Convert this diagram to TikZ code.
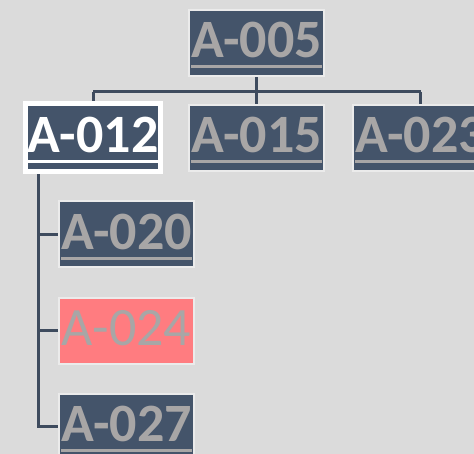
\documentclass[tikz,border=0pt]{standalone}
\usepackage{fontspec}
\setmainfont{Carlito}
\usepackage{tikz}
\usetikzlibrary{positioning}
\definecolor{slate}{HTML}{44546A}
\definecolor{wire}{HTML}{3E4B5E}
\definecolor{idgrey}{HTML}{A8A6A6}
\definecolor{rim}{HTML}{EBEBEB}
\definecolor{alert}{HTML}{FF7C80}
\definecolor{paper}{HTML}{DBDBDB}
\newcommand{\idul}[1]{\vtop{\hbox{#1}\kern7pt\hrule height 3pt}}
\tikzset{%
	idbox/.style   = {draw=rim, line width=2pt, fill=slate, text=idgrey, font=\fontsize{54}{54}\selectfont\bfseries,
	                  minimum width=135, minimum height=66, inner sep=0pt, text height=38pt, text depth=8pt}, % Item
	picked/.style  = {idbox, draw=white, line width=5pt, text=white, minimum height=68}, % Selected item
	flagged/.style = {idbox, fill=alert, font=\fontsize{54}{54}\selectfont}, % Flagged item
	wireline/.style= {draw=wire, line width=3pt}, % Connector
}
\begin{document}
\begin{tikzpicture}[x=1pt,y=1pt,node distance=95pt]
	\fill[paper] (0,0) rectangle (474,454);
	\useasboundingbox (0,0) rectangle (474,454);
	\clip (0,0) rectangle (474,454);
	\coordinate (bus) at (256.5,362);
	\coordinate (spine) at (38,300);
	
	\draw[wireline] (256.5,411) -- (bus);
	\draw[wireline] (93,362) -- (420.5,362);
	\draw[wireline] (bus) -- (256.5,316);
	\draw[wireline] (93,362) -- (93,316);
	\draw[wireline] (420.5,362) -- (420.5,316);
	
	\node [idbox] (a005) at (256.5,411) {\idul{A-005}};
	\node [idbox] (a015) [below of=a005] {\idul{A-015}};
	\node [picked] (a012) [left of=a015,node distance=163.5pt] {\idul{A-012}};
	\node [idbox] (a023) [right of=a015,node distance=164pt] {\idul{A-023}};
	\node [idbox] (a020) at (126.5,219.5) {\idul{A-020}};
	\node [flagged] (a024) [below of=a020,node distance=96.5pt] {A-024};
	\node [idbox] (a027) [below of=a024,node distance=96pt] {\idul{A-027}};
	
	\draw[wireline] (a012.south -| spine) |- (a020.west);
	\draw[wireline] (a012.south -| spine) |- (a024.west);
	\draw[wireline] (a012.south -| spine) |- (a027.west);
	
\end{tikzpicture}
\end{document}
